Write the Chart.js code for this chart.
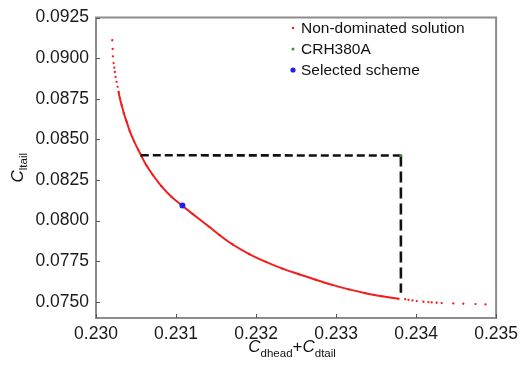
<!DOCTYPE html>
<html>
<head>
<meta charset="utf-8">
<script src="https://cdn.jsdelivr.net/npm/chart.js@4.4.1/dist/chart.umd.min.js"></script>
<style>
  html, body { margin: 0; padding: 0; background: #fff; }
  #wrap { width: 524px; height: 367px; position: relative; }
</style>
</head>
<body>
<div id="wrap"><canvas id="chart"></canvas></div>
<script>
// values
const paretoX = [0.230203, 0.230208, 0.230211, 0.230220, 0.230228, 0.230236, 0.230245, 0.230257,
  0.230270, 0.230282, 0.230299, 0.230320, 0.230348, 0.230382, 0.230423, 0.230476, 0.230526,
  0.230568, 0.230631, 0.230713, 0.230817, 0.230942, 0.231078, 0.231210, 0.231418, 0.231542,
  0.231708, 0.231915, 0.232123, 0.232330, 0.232537, 0.232745, 0.232951, 0.233159, 0.233367,
  0.233573, 0.233781, 0.233864, 0.233905, 0.233955, 0.234009, 0.234092, 0.234154, 0.234195,
  0.234257, 0.234320, 0.234465, 0.234590, 0.234743, 0.234867];
const paretoY = [0.091098, 0.090567, 0.090104, 0.089695, 0.089409, 0.089146, 0.088841, 0.088537,
  0.088232, 0.087927, 0.087518, 0.087116, 0.086604, 0.086098, 0.085488, 0.084878, 0.084372,
  0.083963, 0.083384, 0.082787, 0.082116, 0.081463, 0.080915, 0.080396, 0.079598, 0.079110,
  0.078524, 0.077939, 0.077451, 0.077037, 0.076695, 0.076354, 0.076037, 0.075762, 0.075530,
  0.075335, 0.075183, 0.075155, 0.075122, 0.075079, 0.075043, 0.075000, 0.074982, 0.074957,
  0.074939, 0.074921, 0.074896, 0.074878, 0.074860, 0.074835];
const crhX = [0.23381];
const crhY = [0.08400];
const selectedX = [0.23108];
const selectedY = [0.08092];
const dashHX = [0.23056, 0.23381];
const dashHY = [0.08402, 0.08400];
const dashVX = [0.23381, 0.23381];
const dashVY = [0.08400, 0.07555];
const xTicks = [0.230, 0.231, 0.232, 0.233, 0.234, 0.235];
const yTicks = [0.0750, 0.0775, 0.0800, 0.0825, 0.0850, 0.0875, 0.0900, 0.0925];

// the front looks like a solid line between these two points
const DENSE_FROM = 9;
const DENSE_TO = 36;

const RED = '#f21d1d';
const GREEN = '#3d8f3d';
const BLUE = '#2020e6';
const FONT = "'Liberation Sans', Arial, sans-serif";

function pts(xs, ys) {
    return xs.map((x, i) => ({ x: x, y: ys[i] }));
}

const legendItems = [
    { label: 'Non-dominated solution', color: RED, r: 1.2 },
    { label: 'CRH380A', color: GREEN, r: 1.5 },
    { label: 'Selected scheme', color: BLUE, r: 2.6 }
];

function drawParts(ctx, parts, cx, y) {
    let total = 0;
    parts.forEach(p => {
        ctx.font = (p.italic ? 'italic ' : '') + p.size + 'px ' + FONT;
        p.w = ctx.measureText(p.t).width;
        total += p.w;
    });
    let x = cx - total / 2;
    parts.forEach(p => {
        ctx.font = (p.italic ? 'italic ' : '') + p.size + 'px ' + FONT;
        ctx.fillText(p.t, x, y + (p.dy || 0));
        x += p.w;
    });
}

const decorations = {
    id: 'decorations',
    afterDraw(chart) {
        const ctx = chart.ctx;
        const a = chart.chartArea;
        const sx = chart.scales.x, sy = chart.scales.y;
        ctx.save();

        // frame
        ctx.strokeStyle = '#8c8c8c';
        ctx.lineWidth = 2;
        ctx.strokeRect(a.left, a.top, a.right - a.left, a.bottom - a.top);

        // inner tick marks
        ctx.lineWidth = 1;
        ctx.strokeStyle = '#555';
        ctx.beginPath();
        xTicks.forEach(v => {
            const px = Math.round(sx.getPixelForValue(v)) + 0.5;
            ctx.moveTo(px, a.bottom);
            ctx.lineTo(px, a.bottom - 4);
        });
        yTicks.forEach(v => {
            const py = Math.round(sy.getPixelForValue(v)) + 0.5;
            ctx.moveTo(a.left, py);
            ctx.lineTo(a.left + 4, py);
        });
        ctx.stroke();

        // legend
        ctx.textBaseline = 'middle';
        ctx.textAlign = 'left';
        legendItems.forEach((it, i) => {
            const y = 28 + i * 21;
            ctx.fillStyle = it.color;
            ctx.beginPath();
            ctx.arc(293, y, it.r, 0, Math.PI * 2);
            ctx.fill();
            ctx.fillStyle = '#111';
            ctx.font = '15.5px ' + FONT;
            ctx.fillText(it.label, 301, y + 1);
        });

        // axis titles
        ctx.fillStyle = '#111';
        ctx.textBaseline = 'alphabetic';
        drawParts(ctx, [
            { t: 'C', size: 17, italic: true },
            { t: 'dhead', size: 11.5, dy: 5 },
            { t: '+', size: 17 },
            { t: 'C', size: 17, italic: true },
            { t: 'dtail', size: 11.5, dy: 5 }
        ], (a.left + a.right) / 2 - 4, 352);

        ctx.translate(23, (a.top + a.bottom) / 2);
        ctx.rotate(-Math.PI / 2);
        drawParts(ctx, [
            { t: 'C', size: 17, italic: true },
            { t: 'ltail', size: 11.5, dy: 4 }
        ], 0, 0);

        ctx.restore();
    }
};

new Chart(document.getElementById('chart'), {
    type: 'scatter',
    data: {
        datasets: [
            {
                label: 'Selected scheme',
                data: pts(selectedX, selectedY),
                pointRadius: 3,
                pointBackgroundColor: BLUE,
                pointBorderWidth: 0,
                order: 0
            },
            {
                label: 'CRH380A',
                data: pts(crhX, crhY),
                pointRadius: 1.5,
                pointBackgroundColor: GREEN,
                pointBorderWidth: 0,
                order: 1
            },
            {
                data: pts(dashHX, dashHY),
                showLine: true,
                borderColor: '#111',
                borderWidth: 2.6,
                borderDash: [8, 4],
                pointRadius: 0,
                order: 2
            },
            {
                data: pts(dashVX, dashVY),
                showLine: true,
                borderColor: '#111',
                borderWidth: 2.6,
                borderDash: [11, 5],
                pointRadius: 0,
                order: 2
            },
            {
                label: 'Non-dominated solution',
                data: pts(paretoX, paretoY),
                showLine: true,
                borderColor: RED,
                borderWidth: 2,
                cubicInterpolationMode: 'monotone',
                segment: {
                    borderColor: c => (c.p0DataIndex >= DENSE_FROM && c.p1DataIndex <= DENSE_TO) ? RED : 'rgba(0,0,0,0)'
                },
                pointRadius: 1.15,
                pointBackgroundColor: RED,
                pointBorderWidth: 0,
                order: 3
            }
        ]
    },
    options: {
        responsive: true,
        maintainAspectRatio: false,
        animation: false,
        layout: { padding: { left: 0, top: 15, right: 25, bottom: 0 } },
        plugins: {
            legend: { display: false },
            tooltip: { enabled: false }
        },
        scales: {
            x: {
                type: 'linear',
                min: 0.230,
                max: 0.235,
                afterBuildTicks: s => { s.ticks = xTicks.map(v => ({ value: v })); },
                afterFit: s => { s.height = 49; },
                grid: { display: false, drawTicks: false },
                border: { display: false },
                ticks: {
                    callback: v => v.toFixed(3),
                    font: { family: FONT, size: 17.5 },
                    color: '#1a1a1a',
                    padding: 6,
                    maxRotation: 0,
                    autoSkip: false
                }
            },
            y: {
                type: 'linear',
                min: 0.0740,
                max: 0.0925,
                afterBuildTicks: s => { s.ticks = yTicks.map(v => ({ value: v })); },
                afterFit: s => { s.width = 96; },
                grid: { display: false, drawTicks: false },
                border: { display: false },
                ticks: {
                    callback: v => v.toFixed(4),
                    font: { family: FONT, size: 17.5 },
                    color: '#1a1a1a',
                    padding: 7,
                    autoSkip: false
                }
            }
        }
    },
    plugins: [decorations]
});
</script>
</body>
</html>
